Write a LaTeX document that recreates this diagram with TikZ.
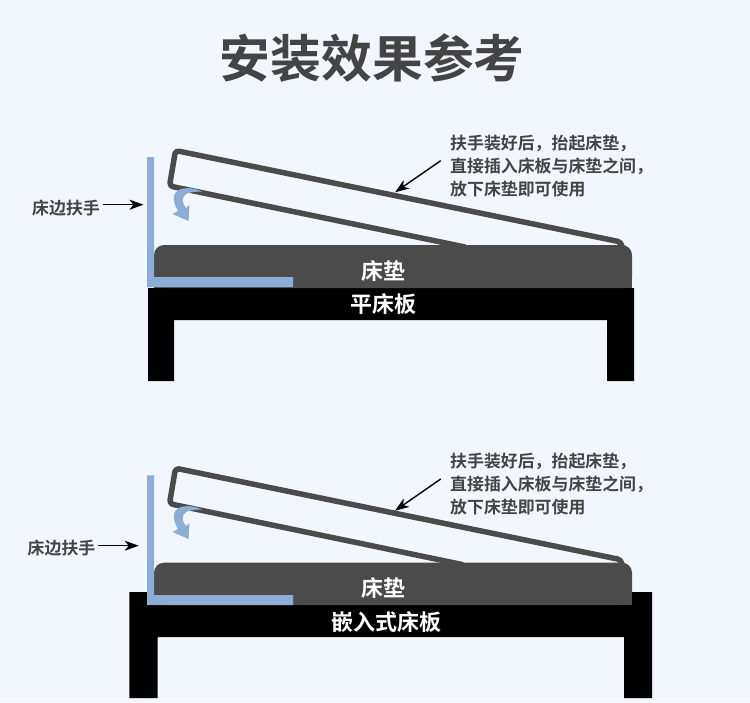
\documentclass[tikz,border=0pt]{standalone}
\usepackage{fontspec}
\usetikzlibrary{arrows.meta}
\newfontfamily\cjkb{Noto Sans CJK SC Bold}
\definecolor{pagebg}{HTML}{F2F7FF}
\definecolor{rail}{HTML}{8BADD6}
\definecolor{matt}{HTML}{4B4B4B}
\definecolor{txt}{HTML}{444444}
\tikzset{
  label note/.style={font=\cjkb\fontsize{16.9}{23}\selectfont,text=txt,align=left,anchor=north west,inner sep=0pt},
  rail label/.style={font=\cjkb\fontsize{16.9}{23}\selectfont,text=txt,anchor=center,inner sep=0pt},
  white label/.style={font=\cjkb\fontsize{22}{24}\selectfont,text=white,anchor=center,inner sep=0pt},
  railfill/.style={fill=rail,draw=none},
  bedfill/.style={fill=black,draw=none},
  mattfill/.style={fill=matt,draw=none},
  lifted/.style={draw=matt,line width=5.5pt,line join=round,rounded corners=3.5pt},
  pointer/.style={draw=black,line width=1.4pt,-{Stealth[length=14pt,width=10pt,inset=4pt]}},
}
\begin{document}
\begin{tikzpicture}[x=1pt,y=-1pt]
\useasboundingbox (0,0) rectangle (750,702);
\fill[pagebg] (0,0) rectangle (750,702);
\node[font=\cjkb\fontsize{50.8}{52}\selectfont,text=txt,inner sep=0pt] (title) at (372.3,58) {安装效果参考};

% ---------- top figure
\path[bedfill] (148,288) -- (634,288) -- (634,381) -- (607,381) -- (607,320) -- (174,320) -- (174,381) -- (148,381) -- cycle;
\draw[lifted] (465,247) -- (169.5,186) -- (175.5,150.5) -- (621,242) -- (622,247);
\path[mattfill,rounded corners=10pt] (154,288) -- (154,245) -- (632,245) -- (632,288) -- cycle;
\path[mattfill] (154,265) rectangle (632,288);
\path[railfill] (147,157) -- (154,157) -- (154,277) -- (293,277) -- (293,287) -- (147,287) -- cycle;
\path[railfill] (202,191.6) .. controls (191,186) and (176,187) .. (174,196) .. controls (173.5,202) and (175,206) .. (178,211) -- (172.5,214) -- (188.5,221) -- (189.5,205) -- (186,208) .. controls (182,203) and (181,198) .. (186,194) .. controls (190,192) and (196,191.5) .. (202,191.6) -- cycle;
\node[rail label] (railA) at (66,208.5) {床边扶手};
\coordinate (railAfrom) at (102.5,204.7);
\coordinate (railAto) at (143.5,204.7);
\draw[pointer] (railAfrom) -- (railAto);
\node[label note] (noteA) at (450,134.5) {扶手装好后，抬起床垫，\\直接插入床板与床垫之间，\\放下床垫即可使用};
\coordinate (noteAfrom) at (440.7,160.7);
\coordinate (noteAto) at (395,192.3);
\draw[pointer] (noteAfrom) -- (noteAto);
\node[white label] (mattA) at (383,271) {床垫};
\node[white label] (bedA) at (383.5,304.5) {平床板};

% ---------- bottom figure
\path[bedfill] (129.3,592) -- (147,592) -- (147,605) -- (632,605) -- (632,592) -- (652,592) -- (652,698) -- (624,698) -- (624,637) -- (157.5,637) -- (157.5,698) -- (129.3,698) -- cycle;
\draw[lifted] (463,564.7) -- (169.5,503.7) -- (175.5,468.2) -- (621,559.7) -- (622,564.7);
\path[mattfill,rounded corners=10pt] (154,605) -- (154,562.7) -- (632,562.7) -- (632,605) -- cycle;
\path[mattfill] (154,582) rectangle (632,605);
\path[railfill] (147,475.3) -- (154,475.3) -- (154,595) -- (293,595) -- (293,605) -- (147,605) -- cycle;
\path[railfill] (202,509.6) .. controls (191,504) and (176,505) .. (174,514) .. controls (173.5,520) and (175,524) .. (178,529) -- (172.5,532) -- (188.5,539) -- (189.5,523) -- (186,526) .. controls (182,521) and (181,516) .. (186,512) .. controls (190,510) and (196,509.5) .. (202,509.6) -- cycle;
\node[rail label] (railB) at (61.5,548.5) {床边扶手};
\coordinate (railBfrom) at (98.3,545.7);
\coordinate (railBto) at (138.7,545.7);
\draw[pointer] (railBfrom) -- (railBto);
\node[label note] (noteB) at (450,453) {扶手装好后，抬起床垫，\\直接插入床板与床垫之间，\\放下床垫即可使用};
\coordinate (noteBfrom) at (440.7,479);
\coordinate (noteBto) at (395,510.7);
\draw[pointer] (noteBfrom) -- (noteBto);
\node[white label] (mattB) at (383,588.5) {床垫};
\node[white label] (bedB) at (386.5,622) {嵌入式床板};
\end{tikzpicture}
\end{document}
